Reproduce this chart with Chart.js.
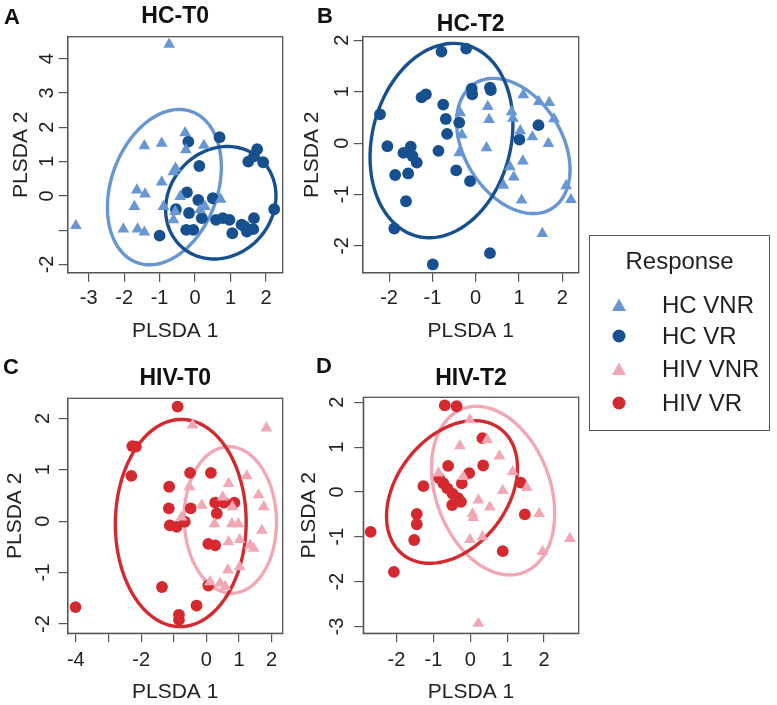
<!DOCTYPE html>
<html>
<head>
<meta charset="utf-8">
<script src="https://cdn.jsdelivr.net/npm/chart.js@4/dist/chart.umd.min.js"></script>
<style>
  html, body { margin:0; padding:0; background:#fff; }
  body { width:777px; height:705px; position:relative; overflow:hidden; font-family:"Liberation Sans", Arial, Helvetica, sans-serif; }
  canvas { position:absolute; }
  .letter { position:absolute; font-weight:bold; font-size:22px; color:#111; line-height:1; transform:translate(-50%,-50%); }
  #legend { position:absolute; left:589px; top:235px; width:181px; height:196px; border:1.5px solid #555; box-sizing:border-box; }
  #legend .t { position:absolute; font-size:24px; color:#222; line-height:1; transform:translateY(-50%); white-space:nowrap; }
  #legend svg { position:absolute; }
</style>
</head>
<body>
<canvas id="cA" width="300" height="350" style="left:0px;top:0px"></canvas>
<canvas id="cB" width="300" height="350" style="left:290px;top:0px"></canvas>
<canvas id="cC" width="300" height="345" style="left:0px;top:360px"></canvas>
<canvas id="cD" width="300" height="345" style="left:290px;top:360px"></canvas>

<div class="letter" style="left:12px;top:17px">A</div>
<div class="letter" style="left:325px;top:16px">B</div>
<div class="letter" style="left:11px;top:367px">C</div>
<div class="letter" style="left:324px;top:366px">D</div>

<div id="legend">
  <div class="t" style="left:0;width:100%;text-align:center;top:25px;transform:translateY(-50%)">Response</div>
  <svg style="left:21px;top:61px" width="16" height="16"><polygon points="8,1.5 15,14 1,14" fill="#6796D2"/></svg>
  <div class="t" style="left:72px;top:69px">HC VNR</div>
  <svg style="left:21px;top:92px" width="16" height="16"><circle cx="8" cy="8" r="6.5" fill="#16508F"/></svg>
  <div class="t" style="left:72px;top:100px">HC VR</div>
  <svg style="left:21px;top:125px" width="16" height="16"><polygon points="8,1.5 15,14 1,14" fill="#F2A7B5"/></svg>
  <div class="t" style="left:72px;top:133px">HIV VNR</div>
  <svg style="left:21px;top:159px" width="16" height="16"><circle cx="8" cy="8" r="6.5" fill="#D42A2F"/></svg>
  <div class="t" style="left:72px;top:167px">HIV VR</div>
</div>

<script>
// ---------- colours ----------
const colHCVNR = '#6796D2';
const colHCVR  = '#16508F';
const colHIVVNR = '#F2A7B5';
const colHIVVR  = '#D42A2F';

// ---------- data: [PLSDA 1, PLSDA 2] ----------
const hcT0_VNR = [[-0.73,4.42],[-3.36,-0.87],[-0.28,1.84],[-0.94,1.53],[-1.43,1.46],[-0.26,1.34],[0.25,1.47],[-0.61,0.70],[-0.55,0.80],[-0.94,0.40],[-1.64,0.17],[-1.41,0.05],[-1.71,-0.31],[-2.02,-0.97],[-1.62,-0.97],[-1.43,-1.06],[-0.89,-0.31],[-0.61,-0.70],[-0.56,-0.46],[-0.42,-0.02],[0.28,-0.31],[0.14,-0.41],[0.72,-0.10]];
const hcT0_VR = [[-0.19,1.58],[0.69,1.71],[0.12,0.87],[-0.23,0.10],[0.09,-0.12],[0.50,-0.07],[-0.54,-0.39],[-0.17,-0.50],[0.19,-0.65],[-0.25,-0.99],[-0.05,-0.99],[-1.00,-1.16],[0.59,-0.70],[0.78,-0.65],[0.97,-0.70],[1.05,-1.09],[1.31,-0.84],[1.46,-1.04],[1.64,-0.97],[1.66,-0.65],[2.23,-0.39],[1.50,1.00],[1.66,1.15],[1.75,1.36],[1.92,0.98],[1.40,-0.90]];

const hcT2_VNR = [[-0.36,0.59],[0.28,0.71],[0.31,0.46],[-0.32,0.16],[-0.38,-0.19],[0.25,-0.09],[0.83,0.61],[0.86,0.48],[1.10,0.94],[1.03,0.24],[1.31,0.12],[1.46,0.81],[1.70,0.79],[1.81,0.47],[1.68,-0.01],[1.09,-0.35],[0.79,-0.46],[0.88,-0.66],[0.64,-0.82],[1.06,-1.11],[2.09,-0.83],[2.20,-1.10],[1.54,-1.76]];
const hcT2_VR = [[-0.79,1.78],[-0.22,1.84],[-2.21,0.56],[-1.25,0.89],[-1.15,0.95],[-0.75,0.75],[-0.69,0.47],[-0.66,0.18],[-0.38,0.40],[-0.09,1.06],[-0.08,0.95],[0.33,1.08],[0.35,1.03],[-2.04,-0.06],[-1.67,-0.19],[-1.50,-0.07],[-1.46,-0.25],[-1.36,-0.38],[-1.86,-0.62],[-1.56,-0.59],[-1.61,-1.13],[-0.86,-0.15],[-0.45,-0.53],[-0.13,-0.74],[1.01,0.07],[1.45,0.35],[-1.88,-1.66],[-0.99,-2.36],[0.33,-2.14]];

const hivT0_VNR = [[-0.42,1.87],[1.84,1.81],[-0.52,0.67],[-0.14,0.31],[-0.76,0.08],[0.68,0.73],[1.24,0.88],[0.50,0.47],[0.80,0.28],[1.60,0.51],[1.76,0.28],[0.25,-0.05],[0.78,-0.05],[0.98,-0.05],[1.70,-0.18],[0.68,-0.40],[1.02,-0.36],[1.34,-0.47],[1.45,-0.53],[0.66,-0.95],[1.02,-0.89],[0.11,-1.18],[0.42,-1.21],[0.58,-1.27]];
const hivT0_VR = [[-0.88,2.23],[-2.27,1.46],[-2.16,1.45],[-2.30,0.88],[-1.14,0.67],[-1.15,0.25],[-1.12,-0.08],[-0.91,-0.11],[-0.66,-0.01],[-0.48,0.25],[-0.50,0.94],[0.14,0.94],[0.27,0.36],[0.54,0.36],[0.86,0.36],[0.32,0.15],[0.06,-0.44],[0.27,-0.47],[0.06,-1.25],[-1.36,-1.28],[-0.30,-1.64],[-0.84,-1.82],[-0.84,-1.92],[-4.01,-1.67]];

const hivT2_VNR = [[-0.01,1.61],[-0.28,1.03],[0.46,1.16],[0.79,0.80],[1.15,0.45],[0.88,0.03],[1.53,0.10],[0.22,-0.18],[0.53,-0.34],[0.06,-0.49],[0.08,-0.57],[-0.01,-1.06],[0.33,-1.00],[1.87,-0.48],[1.96,-1.33],[2.70,-1.04],[0.22,-2.93],[-0.86,0.42],[-0.19,0.34]];
const hivT2_VR = [[-0.69,1.93],[-0.37,1.91],[0.33,1.20],[0.35,0.59],[-0.60,0.58],[-0.03,0.42],[-0.23,0.19],[-1.27,0.13],[-0.84,0.31],[-0.73,0.19],[-0.62,0.08],[-0.48,-0.04],[-0.33,-0.14],[-0.25,-0.22],[-0.49,-0.29],[-1.45,-0.49],[-1.45,-0.72],[-1.52,-1.07],[-2.70,-0.89],[-2.07,-1.78],[1.37,0.21],[1.48,-0.50],[0.88,-1.32]];

// ---------- confidence ellipses: [centre x, centre y, x half-extent, y half-extent, tilt (x-offset of top / x half-extent)] ----------
const ellHCT0_VNR = [-0.865, 0.255, 1.605, 2.265, 0.26];
const ellHCT0_VR  = [0.725, -0.20, 1.555, 1.64, 0.12];
const ellHCT2_VR  = [-0.79, 0.05, 1.65, 1.89, 0.17];
const ellHCT2_VNR = [0.87, -0.055, 1.31, 1.315, -0.35];
const ellHIVT0_VR  = [-0.785, -0.035, 2.005, 2.015, 0.01];
const ellHIVT0_VNR = [0.735, 0.025, 1.415, 1.425, -0.03];
const ellHIVT2_VR  = [-0.495, 0.0, 1.775, 1.59, 0.34];
const ellHIVT2_VNR = [0.62, 0.03, 1.67, 1.88, -0.27];

// ---------- axis ranges & ticks ----------
const xRangeA = [-3.59, 2.47], yRangeA = [-2.24, 4.64];
const xRangeB = [-2.61, 2.38], yRangeB = [-2.52, 2.07];
const xRangeC = [-4.25, 2.34], yRangeC = [-2.18, 2.39];
const xRangeD = [-2.90, 2.94], yRangeD = [-3.15, 2.11];

const xTicksA = [-3,-2,-1,0,1,2],        xLabelsA = ['-3','-2','-1','0','1','2'];
const yTicksA = [-2,-1,0,1,2,3,4],       yLabelsA = ['-2','','0','1','2','3','4'];
const xTicksB = [-2,-1,0,1,2],           xLabelsB = ['-2','-1','0','1','2'];
const yTicksB = [-2,-1,0,1,2],           yLabelsB = ['-2','-1','0','1','2'];
const xTicksC = [-4,-3,-2,-1,0,1,2],     xLabelsC = ['-4','','-2','','0','1','2'];
const yTicksC = [-2,-1,0,1,2],           yLabelsC = ['-2','-1','0','1','2'];
const xTicksD = [-2,-1,0,1,2],           xLabelsD = ['-2','-1','0','1','2'];
const yTicksD = [-3,-2,-1,0,1,2],        yLabelsD = ['-3','-2','-1','0','1','2'];

const FONT = '"Liberation Sans", Arial, Helvetica, sans-serif';
const AXIS = '#555';

// ---------- plugins ----------
const ellipsePlugin = {
  id: 'ellipses',
  beforeDatasetsDraw(chart, args, opts) {
    const {ctx, scales: {x, y}} = chart;
    (opts.items || []).forEach(it => {
      const [cx, cy, rx, ry, k] = it.e;
      const d = Math.acos(k);
      ctx.save();
      ctx.beginPath();
      const N = 160;
      for (let i = 0; i <= N; i++) {
        const t = i / N * 2 * Math.PI;
        const px = x.getPixelForValue(cx + rx * Math.cos(t));
        const py = y.getPixelForValue(cy + ry * Math.cos(t - d));
        if (i === 0) ctx.moveTo(px, py); else ctx.lineTo(px, py);
      }
      ctx.closePath();
      ctx.strokeStyle = it.color;
      ctx.lineWidth = 3.4;
      ctx.stroke();
      ctx.restore();
    });
  }
};

const framePlugin = {
  id: 'frame',
  afterDraw(chart, args, opts) {
    const {ctx, chartArea: a, scales: {y}} = chart;
    ctx.save();
    ctx.strokeStyle = AXIS;
    ctx.lineWidth = 1.3;
    ctx.strokeRect(a.left, a.top, a.right - a.left, a.bottom - a.top);
    ctx.fillStyle = '#222';
    ctx.font = '20px ' + FONT;
    ctx.textAlign = 'center';
    ctx.textBaseline = 'middle';
    opts.values.forEach((v, i) => {
      const lab = opts.labels[i];
      if (!lab) return;
      const py = y.getPixelForValue(v);
      ctx.save();
      ctx.translate(a.left - opts.offset, py);
      ctx.rotate(-Math.PI / 2);
      ctx.fillText(lab, 0, 0);
      ctx.restore();
    });
    ctx.restore();
  }
};

function pts(arr) { return arr.map(([x, y]) => ({x, y})); }

function makePanel(id, title, vnr, vr, colVNR, colVR, ellVNR, ellVR, xr, yr, xt, xl, yt, yl, g) {
  new Chart(document.getElementById(id), {
    type: 'scatter',
    data: {
      datasets: [
        { label: 'VNR', data: pts(vnr), pointStyle: 'triangle', pointRadius: 6.8, pointHoverRadius: 6.8,
          backgroundColor: colVNR, borderColor: colVNR, borderWidth: 0, clip: false },
        { label: 'VR', data: pts(vr), pointStyle: 'circle', pointRadius: 5.9, pointHoverRadius: 5.9,
          backgroundColor: colVR, borderColor: colVR, borderWidth: 0, clip: false }
      ]
    },
    options: {
      responsive: false,
      animation: false,
      devicePixelRatio: 1,
      layout: { padding: { left: 0, top: 0, right: g.pr, bottom: 0 } },
      plugins: {
        legend: { display: false },
        tooltip: { enabled: false },
        title: {
          display: true, text: title, fullSize: false, color: '#111',
          font: { family: FONT, size: 23, weight: 'bold', lineHeight: 1.0 },
          padding: { top: g.tTop, bottom: g.tBot }
        },
        ellipses: { items: [ { e: ellVNR, color: colVNR }, { e: ellVR, color: colVR } ] },
        frame: { values: yt, labels: yl, offset: g.yOff }
      },
      scales: {
        x: {
          type: 'linear', min: xr[0], max: xr[1],
          afterBuildTicks: s => { s.ticks = xt.map(v => ({ value: v })); },
          afterFit: s => { s.height = g.hx; },
          ticks: { autoSkip: false, maxRotation: 0, minRotation: 0, padding: g.xTickPad, color: '#222',
                   font: { family: FONT, size: 20 }, callback: (v, i) => xl[i] },
          grid: { drawOnChartArea: false, drawTicks: true, tickLength: 9, color: AXIS, lineWidth: 1.2 },
          border: { display: true, color: AXIS, width: 1.3 },
          title: { display: true, text: 'PLSDA 1', color: '#222', font: { family: FONT, size: 21, lineHeight: 1.2 },
                   padding: { top: 0, bottom: g.xtPad } }
        },
        y: {
          type: 'linear', min: yr[0], max: yr[1],
          afterBuildTicks: s => { s.ticks = yt.map(v => ({ value: v })); },
          afterFit: s => { s.width = g.wy; },
          ticks: { display: false, autoSkip: false, callback: (v, i) => yl[i] },
          grid: { drawOnChartArea: false, drawTicks: true, tickLength: 9, color: AXIS, lineWidth: 1.2 },
          border: { display: true, color: AXIS, width: 1.3 },
          title: { display: true, text: 'PLSDA 2', color: '#222', font: { family: FONT, size: 21, lineHeight: 1.2 },
                   padding: { top: g.ytPad, bottom: 0 } }
        }
      }
    },
    plugins: [ellipsePlugin, framePlugin]
  });
}

makePanel('cA', 'HC-T0', hcT0_VNR, hcT0_VR, colHCVNR, colHCVR, ellHCT0_VNR, ellHCT0_VR,
  xRangeA, yRangeA, xTicksA, xLabelsA, yTicksA, yLabelsA,
  { wy: 67.7, hx: 77.3, pr: 17.3, tTop: 5.2, tBot: 8.5, xtPad: 5.7, ytPad: 8.4, xTickPad: 4.4, yOff: 20.7 });

makePanel('cB', 'HC-T2', hcT2_VNR, hcT2_VR, colHCVNR, colHCVR, ellHCT2_VNR, ellHCT2_VR,
  xRangeB, yRangeB, xTicksB, xLabelsB, yTicksB, yLabelsB,
  { wy: 72.7, hx: 77.3, pr: 11.3, tTop: 13.5, tBot: 0.2, xtPad: 5.7, ytPad: 9.4, xTickPad: 4.4, yOff: 20.7 });

makePanel('cC', 'HIV-T0', hivT0_VNR, hivT0_VR, colHIVVNR, colHIVVR, ellHIVT0_VNR, ellHIVT0_VR,
  xRangeC, yRangeC, xTicksC, xLabelsC, yTicksC, yLabelsC,
  { wy: 67.7, hx: 71.7, pr: 17.3, tTop: 7.5, tBot: 7.8, xtPad: 0.4, ytPad: 2.4, xTickPad: 5.8, yOff: 24.7 });

makePanel('cD', 'HIV-T2', hivT2_VNR, hivT2_VR, colHIVVNR, colHIVVR, ellHIVT2_VNR, ellHIVT2_VR,
  xRangeD, yRangeD, xTicksD, xLabelsD, yTicksD, yLabelsD,
  { wy: 73.3, hx: 71.7, pr: 11.3, tTop: 7.5, tBot: 6.8, xtPad: 0.4, ytPad: 6.4, xTickPad: 5.8, yOff: 26.3 });
</script>
</body>
</html>
